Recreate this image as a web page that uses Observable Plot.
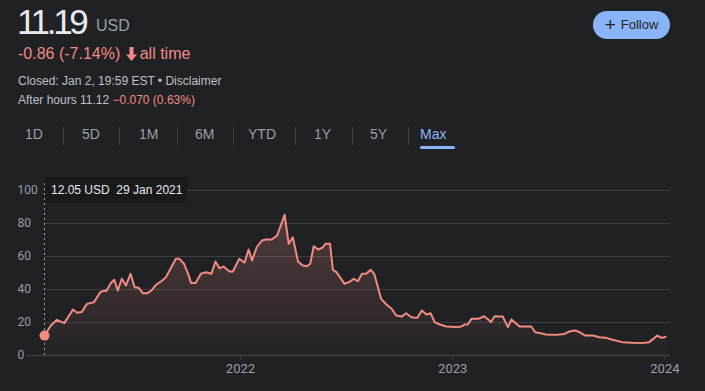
<!DOCTYPE html>
<html><head><meta charset="utf-8">
<script src="https://cdn.jsdelivr.net/npm/d3@7"></script>
<script src="https://cdn.jsdelivr.net/npm/@observablehq/plot@0.6"></script>
<style>
html,body{margin:0;padding:0;background:#202124;width:705px;height:391px;overflow:hidden;font-family:"Liberation Sans",Arial,sans-serif;}
#page{position:relative;width:705px;height:391px;}
.abs{position:absolute;white-space:nowrap;}
#price{left:17px;top:2px;font-size:35px;color:#e8eaed;letter-spacing:-3.3px;line-height:40px;}
#cur{left:96px;top:16px;font-size:16px;color:#9aa0a6;line-height:20px;}
#chg{left:18px;top:44px;font-size:16px;color:#f28b82;line-height:20px;}
#chg svg{vertical-align:-2px;margin:0 3px 0 1px;}
#closed{left:18px;top:74px;font-size:12px;color:#bdc1c6;line-height:15px;}
#after{left:18px;top:93px;font-size:12px;color:#bdc1c6;line-height:15px;}
#after span{color:#f28b82;}
#follow{left:593px;top:11px;width:77px;height:28px;border-radius:14px;background:#8ab4f8;color:#202124;font-size:13px;line-height:28px;text-align:center;}
#follow b{font-size:19px;font-weight:normal;vertical-align:-2px;margin-right:5px;}
.tab{position:absolute;top:126px;font-size:14px;color:#9aa0a6;line-height:17px;}
.sep{position:absolute;top:127px;width:1px;height:18px;background:#3c4043;}
#uline{left:420px;top:146px;width:35px;height:3px;border-radius:2px;background:#8ab4f8;}
#chart{position:absolute;left:0;top:170px;}
#tip{left:45px;top:177px;width:142px;height:26px;background:#18191b;color:#e8eaed;font-size:12px;line-height:26px;padding-left:6px;box-sizing:border-box;}
</style></head>
<body><div id="page">
<div id="price" class="abs">11.19</div>
<div id="cur" class="abs">USD</div>
<div id="chg" class="abs">-0.86 (-7.14%) <svg width="11" height="14" viewBox="0 0 11 14"><path d="M3.5 0h4v7.5h3.5L5.5 14 0 7.5h3.5z" fill="#f28b82"/></svg>all time</div>
<div id="closed" class="abs">Closed: Jan 2, 19:59 EST • Disclaimer</div>
<div id="after" class="abs">After hours 11.12 <span>−0.070 (0.63%)</span></div>
<div id="follow" class="abs"><b>+</b>Follow</div>
<div id="tabs"></div>
<div id="uline" class="abs"></div>
<div id="chart"></div>
<div id="tip" class="abs"></div>
</div>
<script>
const dates = ["2021-01-29","2021-02-09","2021-02-19","2021-03-04","2021-03-19","2021-03-26","2021-04-03","2021-04-12","2021-04-24","2021-05-05","2021-05-12","2021-05-15","2021-05-23","2021-05-29","2021-06-04","2021-06-11","2021-06-18","2021-06-26","2021-07-03","2021-07-10","2021-07-17","2021-07-25","2021-08-01","2021-08-09","2021-08-18","2021-08-26","2021-09-04","2021-09-12","2021-09-18","2021-09-26","2021-10-03","2021-10-08","2021-10-16","2021-10-25","2021-11-03","2021-11-12","2021-11-19","2021-11-26","2021-12-03","2021-12-13","2021-12-19","2021-12-30",
"2022-01-08","2022-01-15","2022-01-21","2022-01-29","2022-02-07","2022-02-14","2022-02-24","2022-03-05","2022-03-18","2022-03-25","2022-04-01","2022-04-10","2022-04-18","2022-04-25","2022-05-01","2022-05-07","2022-05-15","2022-05-23","2022-05-27","2022-06-04","2022-06-09","2022-06-15","2022-06-29","2022-07-08","2022-07-15","2022-07-22","2022-07-29","2022-08-05","2022-08-13","2022-08-19","2022-08-31","2022-09-09","2022-09-18","2022-09-26","2022-10-05","2022-10-13","2022-10-22","2022-11-01","2022-11-09","2022-11-17","2022-11-24","2022-12-01","2022-12-10","2022-12-21",
"2023-01-07","2023-01-16","2023-01-22","2023-01-27","2023-02-02","2023-02-14","2023-02-24","2023-03-03","2023-03-08","2023-03-14","2023-03-23","2023-03-28","2023-04-06","2023-04-12","2023-04-26","2023-05-07","2023-05-16","2023-05-23","2023-05-30","2023-06-10","2023-06-28","2023-07-12","2023-07-22","2023-07-31","2023-08-07","2023-08-17","2023-08-30","2023-09-10","2023-09-22","2023-10-03","2023-10-20","2023-11-06","2023-11-21","2023-12-05","2023-12-19","2023-12-26","2024-01-02"];
const prices = [12.05,18.2,21.6,19.6,27.9,25.9,26.3,31.3,32.3,38.4,39.4,39,43.8,45.9,39.4,46.5,42.4,49.5,41.4,41,37.8,37.8,39.4,43,45,47.5,53.5,58.6,58.6,55.6,49.5,44,44,49.5,50.5,49.5,57,52.9,53.9,50.9,50.9,58.6,
56.2,64.2,57.6,65.6,69.7,70.3,70.3,72.7,85.3,67.7,71.7,57,54.5,54.1,55.6,66.2,64.2,65.6,67.7,67.7,51.9,50.5,43.4,44.8,46.5,45,49.5,49.5,51.9,49.5,34.3,30.9,28.3,24.2,23.6,25.6,23.2,22.8,27.3,24.8,25.6,20.2,18.8,17.6,
17.2,17.6,18.8,18.8,22.2,22.2,23.8,21.8,20.2,23.8,23.6,23.6,17.2,21.8,17.6,17.6,17.6,14.1,13.7,12.7,12.5,13.1,14.7,15.2,14.1,12.1,12.1,11.1,10.7,9.5,8.1,7.7,7.5,8.1,12.1,10.7,11.19];
const yTicks = [0,20,40,60,80,100];
const xTicks = ["2022-01-01","2023-01-01","2024-01-01"];
const tabLabels = ["1D","5D","1M","6M","YTD","1Y","5Y","Max"];
const tabX = [25,82,139,195,248,314,370,420];
const sepX = [63,119,177,233,295,352,408];

const tabs = document.getElementById("tabs");
tabLabels.forEach((t,i)=>{const d=document.createElement("div");d.className="tab";d.style.left=tabX[i]+"px";d.textContent=t;if(t==="Max")d.style.color="#8ab4f8";tabs.appendChild(d);});
sepX.forEach(x=>{const d=document.createElement("div");d.className="sep";d.style.left=x+"px";tabs.appendChild(d);});

const parse = d3.utcParse("%Y-%m-%d");
const data = dates.map((d,i)=>({date:parse(d), value:prices[i]}));
const first = data[0];
document.getElementById("tip").innerHTML = first.value.toFixed(2)+" USD&nbsp;&nbsp;"+d3.utcFormat("%-d %b %Y")(first.date);

const x0 = first.date, x1 = data[data.length-1].date;
const pxPerMs = (665-44)/(x1-x0);
const atPx = px => new Date(+x0 + (px-44)/pxPerMs);

const chart = Plot.plot({
  width:705, height:221, marginTop:20, marginBottom:36, marginLeft:44, marginRight:35,
  style:{background:"transparent", fontFamily:"Roboto, sans-serif"},
  x:{type:"utc", domain:[x0,x1], range:[44,665]},
  y:{domain:[0,100]},
  marks:[
    Plot.gridY(yTicks.filter(d=>d>0), {stroke:"#3c4043", strokeOpacity:1, strokeWidth:1}),
    Plot.ruleY([0], {x1:atPx(27), x2:atPx(670), stroke:"#3c4043", strokeWidth:1.5}),
    Plot.axisY({ticks:yTicks, tickSize:0, tickPadding:0, textAnchor:"start", dx:-27, fill:"#9aa0a6", fontSize:12, label:null}),
    Plot.axisX({ticks:xTicks.map(parse), tickFormat:"%Y", tickSize:5, tickPadding:3, stroke:"#3c4043", fill:"#9aa0a6", fontSize:13, label:null}),
    Plot.areaY(data, {x:"date", y:"value", fill:"url(#areaGrad)"}),
    Plot.ruleX([first.date], {y1:0, y2:104, stroke:"#9aa0a6", strokeDasharray:"2,3", strokeWidth:1}),
    Plot.lineY(data, {x:"date", y:"value", stroke:"#f28b82", strokeWidth:2}),
    Plot.dot([first], {x:"date", y:"value", r:5, fill:"#f28b82"})
  ]
});
const svgNS = "http://www.w3.org/2000/svg";
const defs = document.createElementNS(svgNS,"defs");
defs.innerHTML = '<linearGradient id="areaGrad" x1="0" y1="0" x2="0" y2="1"><stop offset="0" stop-color="#f28b82" stop-opacity="0.24"/><stop offset="1" stop-color="#f28b82" stop-opacity="0.02"/></linearGradient>';
chart.insertBefore(defs, chart.firstChild);
document.getElementById("chart").appendChild(chart);
</script>
</body></html>
